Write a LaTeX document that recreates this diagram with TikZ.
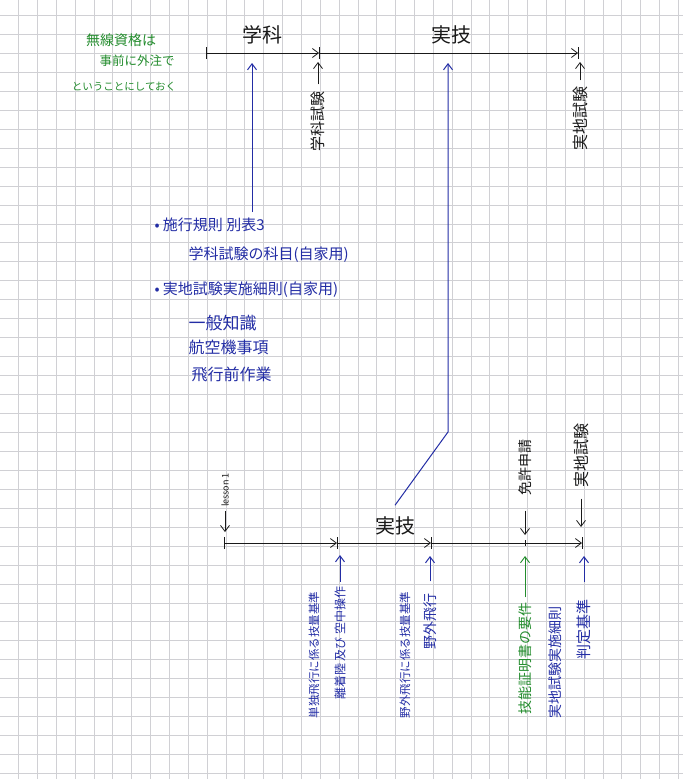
\documentclass[tikz,border=0pt]{standalone}
\usepackage{fontspec}
\setmainfont{Noto Sans CJK JP}
\usetikzlibrary{arrows.meta}

\definecolor{inkblack}{RGB}{25,25,25}
\definecolor{inkblue}{RGB}{35,45,165}
\definecolor{inkgreen}{RGB}{35,140,45}
\definecolor{paperline}{RGB}{208,208,212}

\tikzset{
  pen/.style={inkblack, line width=0.8pt},
  bluepen/.style={inkblue, line width=1pt},
  greenpen/.style={inkgreen, line width=0.9pt},
  tip/.style={-{Straight Barb[length=6pt,width=9pt]}},
  fs/.style={font=\fontsize{#1}{#1}\selectfont}
}

\begin{document}
\begin{tikzpicture}[x=1pt,y=-1pt]

      \useasboundingbox (0,0) rectangle (683,779);
      \fill[white] (0,0) rectangle (683,779);

      \foreach \i in {0,...,35}
        \draw[paperline, line width=0.5pt] ({18.45+18.85*\i},0) -- ++(0,779);
      \foreach \j in {0,...,40}
        \draw[paperline, line width=0.5pt] (0,{15.3+18.95*\j}) -- ++(683,0);

      \coordinate (a0) at (206,53);
      \coordinate (a1) at (319,53);
      \coordinate (a2) at (578,53);
      \coordinate (b0) at (224,543);
      \coordinate (b1) at (337,543);
      \coordinate (b2) at (431,543);
      \coordinate (b3) at (525,543);
      \coordinate (b4) at (582,543);
      \coordinate (regA) at (252,212);
      \coordinate (bend) at (448,432);

      \begin{scope}[every node/.style={inkblack}]
        \node[fs=20] (gakka)    at (262,35)  {学科};
        \node[fs=20] (jitsugiA) at (451,35)  {実技};
        \node[fs=20] (jitsugiB) at (395,526) {実技};
        \node[fs=15,rotate=90] (gakkaShiken) at (318,121) {学科試験};
        \node[fs=16,rotate=90] (jicchiA)     at (580,118) {実地試験};
        \node[fs=9,rotate=90]  (lesson)      at (225,490) {lesson 1};
        \node[fs=14,rotate=90] (menkyo)      at (525,467) {免許申請};
        \node[fs=16,rotate=90] (jicchiB)     at (581,455) {実地試験};
      \end{scope}

      \begin{scope}[every node/.style={inkgreen}]
        \node[fs=14]   (musen)  at (121,40) {無線資格は};
        \node[fs=12.5] (gaichu) at (137,61) {事前に外注で};
        \node[fs=10.5] (oku)    at (124,87) {ということにしておく};
        \node[fs=14,rotate=90] (ginou) at (525,658) {技能証明書の要件};
      \end{scope}

      \begin{scope}[every node/.style={inkblue,fs=15,anchor=west}]
        \node (kisoku)  at (151,225) {• 施行規則 別表3};
        \node (kamoku)  at (185,255) {学科試験の科目(自家用)};
        \node (saisoku) at (151,290) {• 実地試験実施細則(自家用)};
        \node[fs=17] (ippan)   at (185,323) {一般知識};
        \node[fs=16] (kokuki)  at (185,347) {航空機事項};
        \node[fs=16] (hiko)    at (188,374) {飛行前作業};
      \end{scope}

      \begin{scope}[every node/.style={inkblue,rotate=90}]
        \node[fs=11.5] (tandoku)   at (314,655) {単独飛行に係る技量基準};
        \node[fs=12]   (rikuchaku) at (340,643) {離着陸 及び 空中操作};
        \node[fs=11.5] (yagaiKijun) at (405,655) {野外飛行に係る技量基準};
        \node[fs=14]   (yagai)     at (430,621) {野外飛行};
        \node[fs=14]   (saisokuB)  at (555,662) {実地試験実施細則};
        \node[fs=15]   (hantei)    at (584,629) {判定基準};
      \end{scope}

      \begin{scope}[pen]
        \draw[tip] (a0) -- (a1);
        \draw[tip] (a1) -- (a2);
        \foreach \t in {a0,a1,a2}
          \draw (\t) ++(0,-6) -- ++(0,12);

        \draw[tip] (b0) -- (b1);
        \draw[tip] (b1) -- (b2);
        \draw[tip] (b2) -- (b4);
        \foreach \t in {b0,b1,b2,b4}
          \draw (\t) ++(0,-6) -- ++(0,12);
        \draw[line width=0.5pt] (b3) ++(0,-3) -- ++(0,6);

        \draw[tip, shorten <=3pt, shorten >=9pt] (gakkaShiken.east) -- (gakkaShiken.east |- a1);
        \draw[tip, shorten <=2pt, shorten >=9pt] (jicchiA.east) -- (jicchiA.east |- a2);
        \draw[tip, shorten <=1pt, shorten >=11pt] (lesson.west) -- (lesson.west |- b0);
        \draw[tip, shorten <=12pt, shorten >=8pt] (menkyo.west) -- (menkyo.west |- b3);
        \draw[tip, shorten <=8pt, shorten >=16pt] (jicchiB.west) -- (jicchiB.west |- b4);
      \end{scope}

      \begin{scope}[bluepen]
        \draw[tip, shorten >=10pt] (regA) -- (regA |- a0);
        \draw[tip, shorten >=10pt] ([yshift=8pt]jitsugiB.north) -- (bend) -- (bend |- a0);
        \draw[tip, shorten <=1pt, shorten >=12pt] (rikuchaku.east) -- (rikuchaku.east |- b1);
        \draw[tip, shorten <=8pt, shorten >=13pt] (yagai.east) -- (yagai.east |- b2);
        \draw[tip, shorten <=13pt, shorten >=13pt] (hantei.east) -- (hantei.east |- b4);
      \end{scope}

      \begin{scope}[greenpen]
        \draw[tip, shorten <=1pt, shorten >=13pt] (ginou.east) -- (ginou.east |- b3);
      \end{scope}

    \end{tikzpicture}
\end{document}
